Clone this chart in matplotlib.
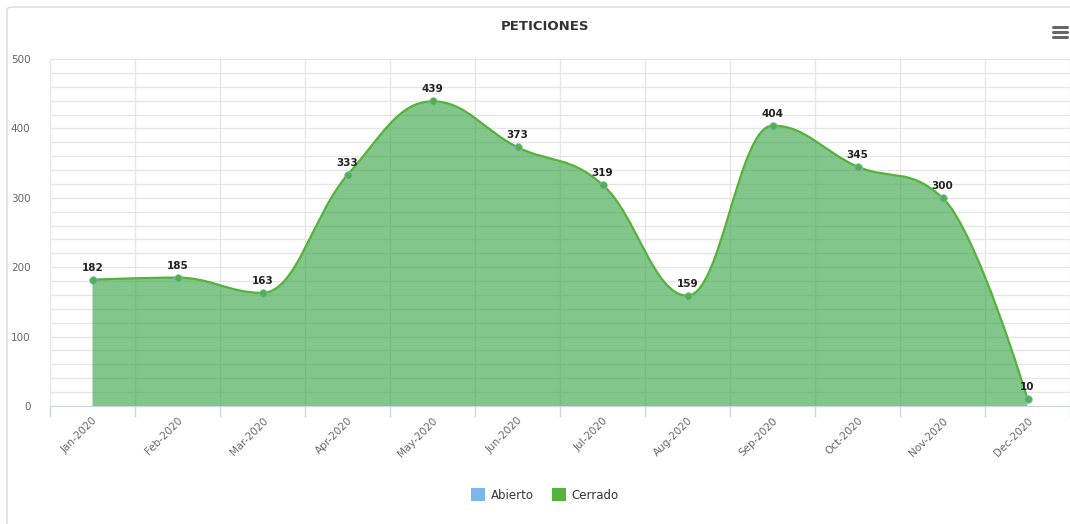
import matplotlib
matplotlib.use("Agg")
import matplotlib.pyplot as plt
import numpy as np
from matplotlib.path import Path
from matplotlib.patches import PathPatch, Patch, FancyBboxPatch
from matplotlib.lines import Line2D
from matplotlib.ticker import MultipleLocator

plt.rcParams['font.family'] = ['DejaVu Sans']

# data
months = ["Jan-2020", "Feb-2020", "Mar-2020", "Apr-2020", "May-2020", "Jun-2020",
          "Jul-2020", "Aug-2020", "Sep-2020", "Oct-2020", "Nov-2020", "Dec-2020"]
cerrado = [182, 185, 163, 333, 439, 373, 319, 159, 404, 345, 300, 10]
series_names = ["Abierto", "Cerrado"]
series_colors = ["#7cb5ec", "#55b23a"]
title = "PETICIONES"


def spline_path(xs, ys, smoothing=1.5):
    """Highcharts-style spline: bezier control points per point."""
    n = len(xs)
    left = [(xs[i], ys[i]) for i in range(n)]
    right = [(xs[i], ys[i]) for i in range(n)]
    denom = smoothing + 1
    for i in range(1, n - 1):
        x, y = xs[i], ys[i]
        lx, ly = xs[i - 1], ys[i - 1]
        nx, ny = xs[i + 1], ys[i + 1]
        lcx = (smoothing * x + lx) / denom
        lcy = (smoothing * y + ly) / denom
        rcx = (smoothing * x + nx) / denom
        rcy = (smoothing * y + ny) / denom
        corr = (rcy - lcy) * (rcx - x) / (rcx - lcx) + y - rcy
        lcy += corr
        rcy += corr
        if lcy > ly and lcy > y:
            lcy = max(ly, y); rcy = 2 * y - lcy
        elif lcy < ly and lcy < y:
            lcy = min(ly, y); rcy = 2 * y - lcy
        if rcy > ny and rcy > y:
            rcy = max(ny, y); lcy = 2 * y - rcy
        elif rcy < ny and rcy < y:
            rcy = min(ny, y); lcy = 2 * y - rcy
        left[i] = (lcx, lcy)
        right[i] = (rcx, rcy)
    verts = [(xs[0], ys[0])]
    codes = [Path.MOVETO]
    for i in range(1, n):
        verts += [right[i - 1], left[i], (xs[i], ys[i])]
        codes += [Path.CURVE4] * 3
    return verts, codes


fig = plt.figure(figsize=(10.7, 5.24), dpi=100)
ax = fig.add_axes([50 / 1070, 1 - 406 / 524, 1020 / 1070, 347 / 524])

x = np.arange(len(months))
verts, codes = spline_path(list(x), cerrado)

# area fill
fverts = verts + [(x[-1], 0), (x[0], 0), verts[0]]
fcodes = codes + [Path.LINETO, Path.LINETO, Path.CLOSEPOLY]
ax.add_patch(PathPatch(Path(fverts, fcodes), facecolor="#3fa84f", alpha=0.65,
                       edgecolor="none", zorder=2))
ax.add_patch(PathPatch(Path(verts, codes), facecolor="none",
                       edgecolor=series_colors[1], linewidth=1.6, zorder=3))
ax.scatter(x, cerrado, s=30, color=series_colors[1], edgecolor=series_colors[0],
           linewidth=0.6, zorder=4)

for xi, v in zip(x, cerrado):
    ax.annotate(str(v), (xi, v), xytext=(0, 5), textcoords="offset points",
                ha="center", va="bottom", fontsize=7.5, fontweight="bold",
                color="#222222", zorder=5)

ax.set_xlim(-0.5, len(months) - 0.5)
ax.set_ylim(0, 500)
ax.yaxis.set_major_locator(MultipleLocator(100))
ax.yaxis.set_minor_locator(MultipleLocator(20))
ax.grid(which="both", axis="y", color="#e6e6e6", linewidth=1, zorder=0)
for b in np.arange(-0.5, len(months), 1.0):
    ax.axvline(b, color="#e6e6e6", linewidth=1, zorder=0)

ax.set_xticks(x)
ax.set_xticklabels(months, rotation=45, ha="right", rotation_mode="anchor",
                   fontsize=7.5, color="#666666")
ax.tick_params(axis="x", length=0, pad=7)
ax.set_xticks(np.arange(-0.5, len(months), 1.0), minor=True)
ax.tick_params(axis="x", which="minor", length=8, color="#ccd6eb", width=1)
ax.tick_params(axis="y", which="both", length=0, pad=14, labelsize=7.5,
               labelcolor="#666666")

for s in ["top", "right", "left"]:
    ax.spines[s].set_visible(False)
ax.spines["bottom"].set_color("#ccd6eb")

fig.text(545 / 1070, 1 - 27 / 524, title, ha="center", va="center",
         fontsize=9.5, fontweight="bold", color="#333333")

# hamburger menu
for yy in [27, 32, 37]:
    fig.add_artist(Line2D([1053 / 1070, 1067 / 1070], [1 - yy / 524] * 2,
                          color="#666666", linewidth=2.2, solid_capstyle="round"))

# outer frame
fig.add_artist(FancyBboxPatch((7 / 1070, -0.05), 1.1, 1 - 7 / 524 + 0.05,
                              boxstyle="round,pad=0,rounding_size=0.006",
                              transform=fig.transFigure, facecolor="none",
                              edgecolor="#d9d9d9", linewidth=1))

handles = [Patch(facecolor=c, edgecolor="none") for c in series_colors]
fig.legend(handles, series_names, loc="center", bbox_to_anchor=(545 / 1070, 1 - 495 / 524),
           ncol=2, frameon=False, fontsize=8.5, handlelength=1.2, handleheight=1.2,
           columnspacing=1.5, handletextpad=0.5, labelcolor="#333333")

fig.savefig("out.png", dpi=100)
